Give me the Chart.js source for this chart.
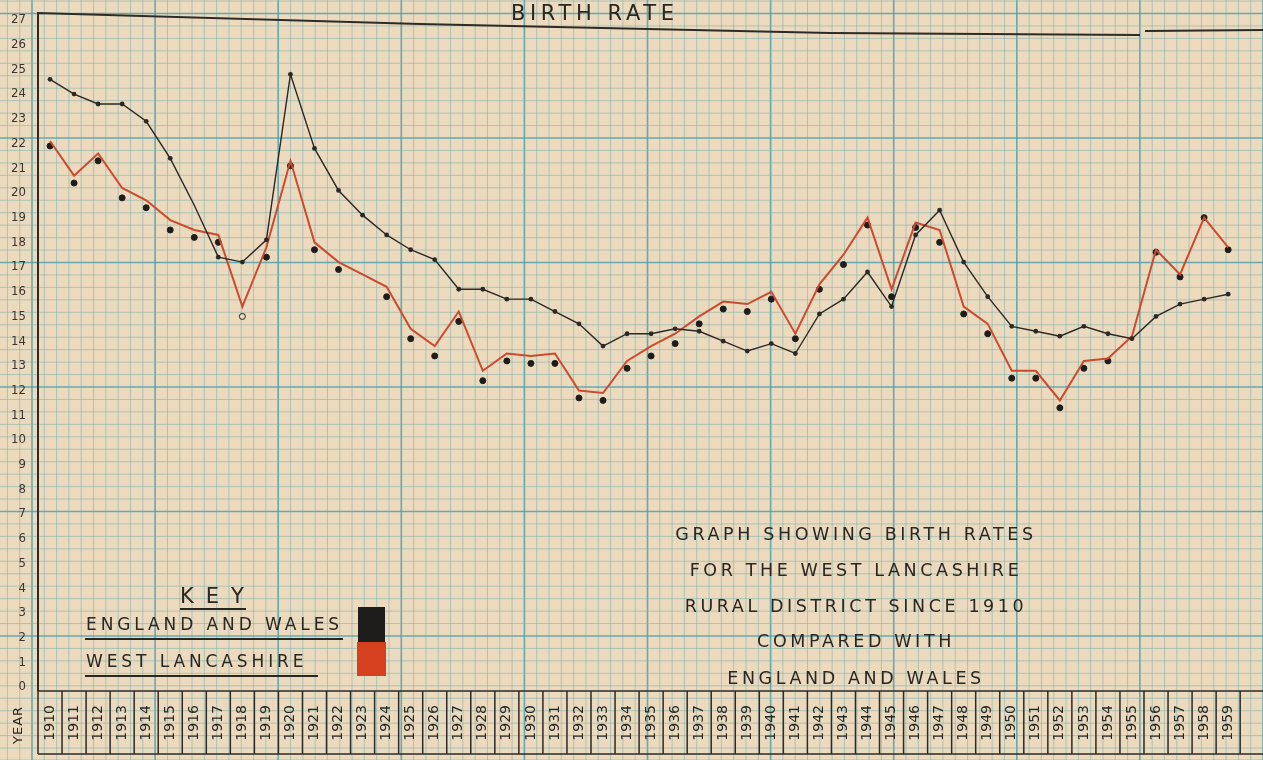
<!DOCTYPE html>
<html>
<head>
<meta charset="utf-8">
<script src="https://cdn.jsdelivr.net/npm/chart.js@4.4.0/dist/chart.umd.min.js"></script>
<style>
  body { margin: 0; background: #ebdabe; }
  #caja { position: relative; width: 1263px; height: 760px; overflow: hidden; }
  .txt { position: absolute; font-family: 'DejaVu Sans', sans-serif; color: #2a2622; white-space: nowrap; line-height: 1; }
  .linea { position: absolute; background: #2a2622; }
  .nota { left: 556px; width: 600px; text-align: center; font-size: 17.5px; letter-spacing: 3.6px; }
</style>
</head>
<body>
<div id="caja">
  <canvas id="myChart" width="1263" height="760"></canvas>

  <div class="txt" style="left:511px; top:3px; font-size:21px; letter-spacing:4.6px;">BIRTH RATE</div>
  <div class="txt" style="left:2px; top:721px; font-size:13px; letter-spacing:1px; transform: rotate(-90deg); transform-origin: 16px 7px;">YEAR</div>

  <div class="txt" style="left:180px; top:586px; font-size:21px; letter-spacing:12px;">KEY</div>
  <div class="linea" style="left:180px; top:608px; width:66px; height:2px;"></div>
  <div class="txt" style="left:86px; top:616px; font-size:17px; letter-spacing:3.9px;">ENGLAND AND WALES</div>
  <div class="linea" style="left:85px; top:638px; width:258px; height:2px;"></div>
  <div class="txt" style="left:86px; top:653px; font-size:17px; letter-spacing:3.9px;">WEST LANCASHIRE</div>
  <div class="linea" style="left:85px; top:675px; width:233px; height:2px;"></div>
  <div style="position:absolute; left:358px; top:607px; width:27px; height:35px; background:#1f1d1c;"></div>
  <div style="position:absolute; left:357px; top:642px; width:29px; height:34px; background:#d5401f;"></div>

  <div class="txt nota" style="top:526px;">GRAPH SHOWING BIRTH RATES</div>
  <div class="txt nota" style="top:562px;">FOR THE WEST LANCASHIRE</div>
  <div class="txt nota" style="top:598px;">RURAL DISTRICT SINCE 1910</div>
  <div class="txt nota" style="top:633px;">COMPARED WITH</div>
  <div class="txt nota" style="top:670px;">ENGLAND AND WALES</div>
</div>

<script>
const anios = ['1910','1911','1912','1913','1914','1915','1916','1917','1918','1919',
  '1920','1921','1922','1923','1924','1925','1926','1927','1928','1929',
  '1930','1931','1932','1933','1934','1935','1936','1937','1938','1939',
  '1940','1941','1942','1943','1944','1945','1946','1947','1948','1949',
  '1950','1951','1952','1953','1954','1955','1956','1957','1958','1959'];

const marcasY = [0,1,2,3,4,5,6,7,8,9,10,11,12,13,14,15,16,17,18,19,20,21,22,23,24,25,26,27];

// england and wales (black line)
const inglaterraGales = [24.6, 24.0, 23.6, 23.6, 22.9, 21.4, 19.5, 17.4, 17.2, 18.1,
  24.8, 21.8, 20.1, 19.1, 18.3, 17.7, 17.3, 16.1, 16.1, 15.7,
  15.7, 15.2, 14.7, 13.8, 14.3, 14.3, 14.5, 14.4, 14.0, 13.6,
  13.9, 13.5, 15.1, 15.7, 16.8, 15.4, 18.3, 19.3, 17.2, 15.8,
  14.6, 14.4, 14.2, 14.6, 14.3, 14.1, 15.0, 15.5, 15.7, 15.9];

// west lancashire, red line as drawn
const lancsLinea = [22.1, 20.7, 21.6, 20.2, 19.7, 18.9, 18.5, 18.3, 15.4, 17.8,
  21.3, 18.0, 17.2, 16.7, 16.2, 14.5, 13.8, 15.2, 12.8, 13.5,
  13.4, 13.5, 12.0, 11.9, 13.2, 13.8, 14.3, 15.0, 15.6, 15.5,
  16.0, 14.3, 16.3, 17.5, 19.0, 16.1, 18.8, 18.5, 15.4, 14.7,
  12.8, 12.8, 11.6, 13.2, 13.3, 14.2, 17.7, 16.7, 19.0, 17.8];

// west lancashire, plotted dots
const lancsPuntos = [21.9, 20.4, 21.3, 19.8, 19.4, 18.5, 18.2, 18.0, 15.0, 17.4,
  21.1, 17.7, 16.9, null, 15.8, 14.1, 13.4, 14.8, 12.4, 13.2,
  13.1, 13.1, 11.7, 11.6, 12.9, 13.4, 13.9, 14.7, 15.3, 15.2,
  15.7, 14.1, 16.1, 17.1, 18.7, 15.8, 18.6, 18.0, 15.1, 14.3,
  12.5, 12.5, 11.3, 12.9, 13.2, null, 17.6, 16.6, 19.0, 17.7];

const papel = {
  id: 'papel',
  beforeDraw(chart) {
    const ctx = chart.ctx;
    ctx.save();
    ctx.fillStyle = '#ebdabe';
    ctx.fillRect(0, 0, chart.width, chart.height);
    for (let k = -3; k < 105; k++) {
      const x = 32 + k * 12.31;
      ctx.strokeStyle = k % 10 == 0 ? 'rgba(80,160,172,0.85)' : 'rgba(125,175,172,0.55)';
      ctx.lineWidth = k % 10 == 0 ? 1.6 : 1;
      ctx.beginPath(); ctx.moveTo(x, 0); ctx.lineTo(x, chart.height); ctx.stroke();
    }
    for (let k = -2; k < 64; k++) {
      const y = 13.5 + k * 12.45;
      ctx.strokeStyle = k % 10 == 0 ? 'rgba(80,160,172,0.85)' : 'rgba(125,175,172,0.55)';
      ctx.lineWidth = k % 10 == 0 ? 1.6 : 1;
      ctx.beginPath(); ctx.moveTo(0, y); ctx.lineTo(chart.width, y); ctx.stroke();
    }
    ctx.restore();
  },
  beforeDatasetsDraw(chart) {
    const ctx = chart.ctx;
    const x = chart.scales.x;
    const area = chart.chartArea;
    ctx.save();
    ctx.strokeStyle = '#2e2a27';
    ctx.lineWidth = 2;
    // marco izquierdo y superior
    ctx.beginPath();
    ctx.moveTo(area.left, 691); ctx.lineTo(area.left, 13);
    ctx.lineTo(420, 24); ctx.lineTo(830, 33); ctx.lineTo(1140, 35);
    ctx.moveTo(1145, 31); ctx.lineTo(1263, 30);
    ctx.stroke();
    // casilleros de los anios
    const w = (area.right - area.left) / anios.length;
    ctx.lineWidth = 1.5;
    ctx.beginPath();
    ctx.moveTo(area.left, 691); ctx.lineTo(1263, 691);
    ctx.moveTo(area.left, 754); ctx.lineTo(1263, 754);
    for (let i = 0; i <= anios.length; i++) {
      const px = x.getPixelForValue(Math.min(i, anios.length - 1)) + (i == anios.length ? w / 2 : -w / 2);
      ctx.moveTo(px, 691); ctx.lineTo(px, 754);
    }
    ctx.stroke();
    ctx.restore();
  }
};

const radioNegro = inglaterraGales.map((v, i) => anios[i] == '1916' ? 0 : 2.4);
const rellenoPuntos = lancsPuntos.map((v, i) => anios[i] == '1918' ? '#ebdabe' : '#1f1d1c');

const ctx = document.getElementById('myChart');
const myChart = new Chart(ctx, {
  type: 'line',
  data: {
    labels: anios,
    datasets: [{
      label: 'England and Wales',
      data: inglaterraGales,
      borderColor: '#2b2825',
      borderWidth: 1.4,
      pointRadius: radioNegro,
      pointBackgroundColor: '#2b2825',
      pointBorderWidth: 0,
      tension: 0
    }, {
      label: 'West Lancashire',
      data: lancsLinea,
      borderColor: '#cc4a2e',
      borderWidth: 2,
      pointRadius: 0,
      tension: 0
    }, {
      label: 'West Lancashire (points)',
      data: lancsPuntos,
      showLine: false,
      pointRadius: 3,
      pointBackgroundColor: rellenoPuntos,
      pointBorderColor: '#1f1d1c',
      pointBorderWidth: 1
    }]
  },
  options: {
    responsive: false,
    animation: false,
    layout: { padding: { top: 20, right: 5, left: 0, bottom: 0 } },
    plugins: {
      legend: { display: false },
      tooltip: { enabled: false },
      title: { display: false }
    },
    scales: {
      x: {
        offset: true,
        grid: { display: false, drawTicks: false },
        border: { display: false },
        ticks: {
          autoSkip: false,
          maxRotation: 90,
          minRotation: 90,
          padding: 18,
          color: '#2a2622',
          font: { family: 'DejaVu Sans', size: 14 }
        },
        afterFit: (scale) => { scale.height = 73; }
      },
      y: {
        min: 0,
        max: 27,
        afterBuildTicks: (scale) => { scale.ticks = marcasY.map(v => ({ value: v })); },
        grid: { display: false, drawTicks: false },
        border: { display: false },
        ticks: {
          padding: 12,
          color: '#3a3530',
          font: { family: 'DejaVu Sans Condensed, DejaVu Sans', size: 13 }
        },
        afterFit: (scale) => { scale.width = 38; }
      }
    }
  },
  plugins: [papel]
});
</script>
</body>
</html>
